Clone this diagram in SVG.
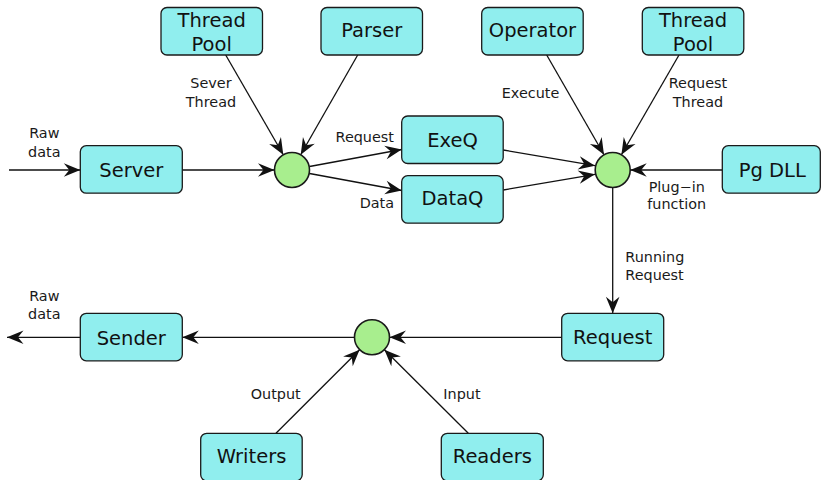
<svg xmlns="http://www.w3.org/2000/svg" width="821" height="480" viewBox="0 0 821 480">
<style>
.box{fill:#90eeee;stroke:#1a1a1a;stroke-width:1.3}
.hub{fill:#a8ee8e;stroke:#1a1a1a;stroke-width:1.6}
.nl{font-family:"DejaVu Sans",sans-serif;font-size:19.5px;fill:#111;text-anchor:middle}
.el{font-family:"DejaVu Sans",sans-serif;font-size:14.4px;fill:#1a1a1a}
.c{text-anchor:middle}
.e{text-anchor:end}
.edge{stroke:#111;stroke-width:1.3;fill:none;marker-end:url(#ah)}
</style>
<defs>
<marker id="ah" markerUnits="userSpaceOnUse" orient="auto" refX="0" refY="0" markerWidth="20" markerHeight="16" viewBox="-17 -8 18 16" overflow="visible">
<path d="M0,0 L-16.5,-6.8 L-11,0 L-16.5,6.8 Z" fill="#111"/>
</marker>
</defs>
<g id="connectors">
<line class="edge" x1="9" y1="170" x2="80.3" y2="170"/>
<line class="edge" x1="182.3" y1="170" x2="274.5" y2="170"/>
<line class="edge" x1="225.7" y1="55" x2="283.3" y2="154.8"/>
<line class="edge" x1="357.7" y1="55" x2="300.7" y2="154.8"/>
<line class="edge" x1="309.5" y1="166.5" x2="401.7" y2="149.5"/>
<line class="edge" x1="309.5" y1="173.5" x2="401.7" y2="190.5"/>
<line class="edge" x1="503.3" y1="150" x2="595" y2="165.7"/>
<line class="edge" x1="503.3" y1="190" x2="595" y2="174.3"/>
<line class="edge" x1="546.7" y1="55" x2="604" y2="154.8"/>
<line class="edge" x1="679" y1="55" x2="621.4" y2="154.8"/>
<line class="edge" x1="722" y1="170" x2="630.2" y2="170"/>
<line class="edge" x1="612.7" y1="187.5" x2="612.7" y2="313.3"/>
<line class="edge" x1="561.7" y1="337.3" x2="389.5" y2="337.3"/>
<line class="edge" x1="354.5" y1="337.3" x2="182.3" y2="337.3"/>
<line class="edge" x1="80.3" y1="337.3" x2="7" y2="337.3"/>
<line class="edge" x1="276" y1="433.3" x2="359.6" y2="349.7"/>
<line class="edge" x1="468.3" y1="433.3" x2="384.4" y2="349.7"/>
<text class="el c" x="44.3" y="138.3">Raw</text>
<text class="el c" x="44.3" y="156.7">data</text>
<text class="el c" x="211" y="88.3">Sever</text>
<text class="el c" x="211" y="106.7">Thread</text>
<text class="el e" x="394" y="141.7">Request</text>
<text class="el e" x="394" y="207.7">Data</text>
<text class="el e" x="559.3" y="98.3">Execute</text>
<text class="el c" x="698" y="88.3">Request</text>
<text class="el c" x="698" y="106.7">Thread</text>
<text class="el c" x="676.7" y="191.7">Plug−in</text>
<text class="el c" x="676.7" y="209.3">function</text>
<text class="el" x="625.3" y="262.3">Running</text>
<text class="el" x="625.3" y="280">Request</text>
<text class="el c" x="44.3" y="301">Raw</text>
<text class="el c" x="44.3" y="319">data</text>
<text class="el e" x="300.7" y="399.3">Output</text>
<text class="el" x="443.3" y="399.3">Input</text>
</g>
<g id="threadpool1"><rect class="box" x="161" y="7.5" width="101.5" height="47.5" rx="6"/><text class="nl" x="211.7" y="27.3">Thread</text><text class="nl" x="211.7" y="50.7">Pool</text></g>
<g id="parser"><rect class="box" x="321" y="7.5" width="101.5" height="47.5" rx="6"/><text class="nl" x="371.7" y="36.7">Parser</text></g>
<g id="operator"><rect class="box" x="481.7" y="7.5" width="101.5" height="47.5" rx="6"/><text class="nl" x="532.5" y="36.7">Operator</text></g>
<g id="threadpool2"><rect class="box" x="642.3" y="7.5" width="101.5" height="47.5" rx="6"/><text class="nl" x="693" y="27.3">Thread</text><text class="nl" x="693" y="50.7">Pool</text></g>
<g id="server"><rect class="box" x="80.3" y="145.7" width="102" height="47.5" rx="6"/><text class="nl" x="131.3" y="176.7">Server</text></g>
<g id="hub1"><circle class="hub" cx="292" cy="170" r="17.5"/></g>
<g id="exeq"><rect class="box" x="401.7" y="116" width="101.5" height="47.5" rx="6"/><text class="nl" x="452.5" y="146.7">ExeQ</text></g>
<g id="dataq"><rect class="box" x="401.7" y="175.7" width="101.5" height="47.5" rx="6"/><text class="nl" x="452.5" y="204.7">DataQ</text></g>
<g id="hub2"><circle class="hub" cx="612.7" cy="170" r="17.5"/></g>
<g id="pgdll"><rect class="box" x="722.3" y="145.7" width="98" height="47.5" rx="6"/><text class="nl" x="772.3" y="176.5">Pg DLL</text></g>
<g id="request"><rect class="box" x="561.7" y="313.3" width="102" height="47.5" rx="6"/><text class="nl" x="612.7" y="343.8">Request</text></g>
<g id="hub3"><circle class="hub" cx="372" cy="337.3" r="17.5"/></g>
<g id="sender"><rect class="box" x="80.3" y="313.3" width="102" height="47.5" rx="6"/><text class="nl" x="131.3" y="344.5">Sender</text></g>
<g id="writers"><rect class="box" x="200.7" y="433.3" width="101.5" height="47.5" rx="6"/><text class="nl" x="251.5" y="462.7">Writers</text></g>
<g id="readers"><rect class="box" x="441.3" y="433.3" width="102" height="47.5" rx="6"/><text class="nl" x="492.3" y="462.7">Readers</text></g>
</svg>
